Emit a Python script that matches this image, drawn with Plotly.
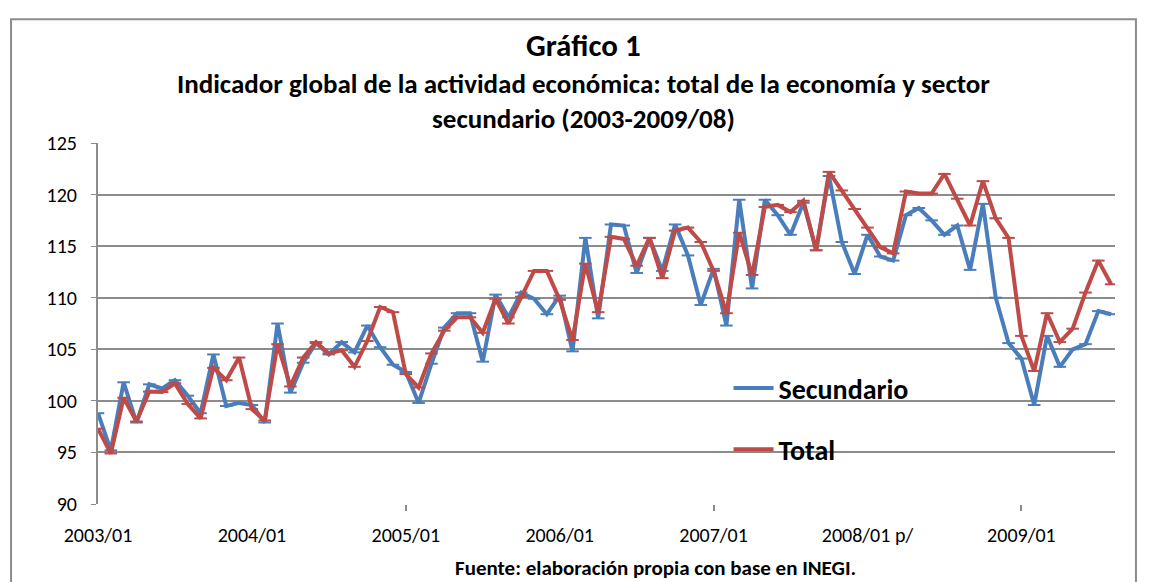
import plotly.graph_objects as go

# --- DATOS ---
meses = [f"{a}/{m:02d}" for a in range(2003, 2010) for m in range(1, 13)][:80]

secundario = [98.8, 95.2, 101.8, 97.9, 101.6, 101.2, 102.0, 100.5, 98.8, 104.5, 99.5, 99.8,
              99.6, 97.9, 107.5, 100.8, 103.7, 105.6, 104.5, 105.7, 104.7, 107.3, 105.2, 103.5,
              102.8, 99.8, 103.6, 107.1, 108.5, 108.5, 103.8, 110.3, 108.1, 110.5, 109.9, 108.4,
              110.2, 104.8, 115.8, 108.0, 117.1, 117.0, 112.4, 115.8, 112.6, 117.1, 114.1, 109.3,
              112.8, 107.3, 119.5, 110.9, 119.5, 118.0, 116.1, 119.2, 114.6, 121.8, 115.4, 112.3,
              116.1, 114.0, 113.6, 118.0, 118.7, 117.5, 116.1, 117.0, 112.7, 119.1, 110.0, 105.6,
              104.1, 99.6, 106.3, 103.3, 105.0, 105.5, 108.7, 108.4]

total = [97.3, 94.9, 100.3, 98.0, 100.9, 100.85, 101.7, 99.7, 98.3, 103.2, 102.0, 104.2,
         99.2, 98.1, 105.5, 101.4, 104.2, 105.7, 104.6, 104.9, 103.3, 105.8, 109.1, 108.6,
         102.6, 101.3, 104.6, 106.8, 108.1, 108.1, 106.6, 109.9, 107.5, 110.1, 112.6, 112.6,
         109.8, 105.9, 113.3, 108.6, 115.9, 115.7, 113.1, 115.8, 111.9, 116.5, 116.8, 115.4,
         112.6, 108.5, 116.3, 112.2, 118.8, 119.0, 118.3, 119.4, 114.6, 122.2, 120.4, 118.6,
         116.8, 114.9, 114.3, 120.3, 120.1, 120.1, 122.0, 119.6, 117.0, 121.3, 117.7, 115.8,
         106.3, 102.9, 108.5, 105.7, 107.0, 110.5, 113.6, 111.3]

etiquetas_x = ["2003/01", "2004/01", "2005/01", "2006/01", "2007/01", "2008/01 p/", "2009/01"]
pos_x = [0, 12, 24, 36, 48, 60, 72]
marcas_x = [24, 48, 72]  # marcas de graduación del eje (cada 24 meses)

FUENTE = "Calibri, Carlito, Lato, sans-serif"
AZUL = "#4A7EBB"
ROJO = "#BE4B48"
GRIS = "#8c8c8c"

x = list(range(len(meses)))

fig = go.Figure()
fig.add_trace(go.Scatter(
    x=x, y=secundario, mode="lines+markers", name="<b>Secundario</b>",
    line=dict(color=AZUL, width=4), legendgroup="a",
    marker=dict(symbol="line-ew", size=9, line=dict(color=AZUL, width=2)),
    customdata=meses, hovertemplate="%{customdata}: %{y}<extra>Secundario</extra>"))
fig.add_trace(go.Scatter(
    x=x, y=total, mode="lines+markers", name="<b>Total</b>",
    line=dict(color=ROJO, width=4), legendgroup="b",
    marker=dict(symbol="line-ew", size=9, line=dict(color=ROJO, width=2)),
    customdata=meses, hovertemplate="%{customdata}: %{y}<extra>Total</extra>"))

# marco exterior del gráfico (coordenadas relativas al área de trazado)
fig.add_shape(type="rect", xref="paper", yref="paper",
              x0=-0.0855, x1=1.0206, y0=-0.27, y1=1.343,
              line=dict(color=GRIS, width=2), layer="below")

fig.add_annotation(text="<b>Gráfico 1</b>", xref="paper", yref="paper",
                   x=0.477, y=1.271, yanchor="middle", showarrow=False,
                   font=dict(size=31, color="black"))
fig.add_annotation(text="<b>Indicador global de la actividad económica: total de la economía y sector"
                        "<br>secundario (2003-2009/08)</b>",
                   xref="paper", yref="paper", x=0.477, y=1.115, yanchor="middle", showarrow=False,
                   font=dict(size=27, color="black"))
fig.add_annotation(text="<b>Fuente: elaboración propia con base en INEGI.</b>", xref="paper", yref="paper",
                   x=0.548, xanchor="center", y=-0.177, yanchor="middle", showarrow=False,
                   font=dict(size=21, color="black"))

fig.update_layout(
    width=1141, height=574,
    margin=dict(l=90, r=34, t=135, b=78),
    paper_bgcolor="white", plot_bgcolor="white",
    font=dict(family=FUENTE, color="black", size=20),
    showlegend=True,
    legend=dict(x=0.62, y=0.39, xanchor="left", yanchor="top",
                font=dict(size=28, color="black"), bgcolor="rgba(0,0,0,0)",
                tracegroupgap=22, itemwidth=40),
    xaxis=dict(range=[0, 79.3], tickmode="array", tickvals=pos_x, ticktext=etiquetas_x,
               showgrid=False, zeroline=False, showline=False, ticks="",
               ticklabelstandoff=17,
               minor=dict(tickmode="array", tickvals=marcas_x, ticks="outside",
                          ticklen=6, tickwidth=2, tickcolor=GRIS, showgrid=False)),
    yaxis=dict(range=[90, 125], dtick=5, showgrid=True, gridcolor=GRIS, gridwidth=2,
               zeroline=False, showline=True, linecolor=GRIS, linewidth=2,
               ticks="outside", ticklen=5, tickcolor=GRIS, ticklabelstandoff=10),
)

fig.write_html("out.html")
